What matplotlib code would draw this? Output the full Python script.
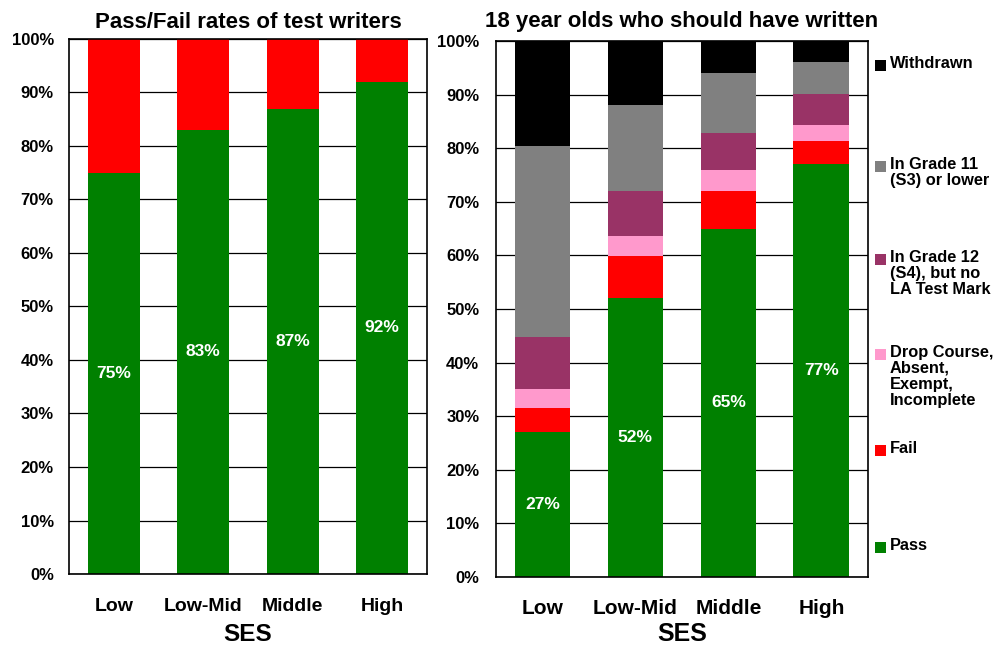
import matplotlib.pyplot as plt
from matplotlib.patches import Rectangle
import numpy as np

plt.rcParams['font.family'] = ['Liberation Sans', 'DejaVu Sans']
plt.rcParams['font.weight'] = 'bold'

# SES groups
groups = ['Low', 'Low-Mid', 'Middle', 'High']

# Left panel: pass/fail among students who wrote the test (%)
writers_pass = [75, 83, 87, 92]
writers_fail = [25, 17, 13, 8]

# Right panel: all 18 year olds who should have written (%)
cohort_series = ['Pass', 'Fail', 'Drop Course,\nAbsent,\nExempt,\nIncomplete',
                 'In Grade 12\n(S4), but no\nLA Test Mark',
                 'In Grade 11\n(S3) or lower', 'Withdrawn']
cohort_pass = [27, 52, 65, 77]
cohort_fail = [4.6, 7.8, 7.0, 4.3]
cohort_drop = [3.4, 3.9, 3.9, 3.0]
cohort_gr12 = [9.8, 8.4, 6.9, 5.8]
cohort_gr11 = [35.6, 15.9, 11.2, 6.0]
cohort_withdrawn = [19.6, 12.0, 6.0, 3.9]

colors = ['#008000', '#FF0000', '#FF99CC', '#993366', '#808080', '#000000']

fig = plt.figure(figsize=(10.08, 6.47), dpi=100)
ax1 = fig.add_axes([0.0685, 0.1128, 0.355, 0.827])
ax2 = fig.add_axes([0.492, 0.1082, 0.369, 0.8284])

x = np.arange(len(groups))


def style_axis(ax, xpad, ypad, xsize):
    ax.set_xlim(-0.5, 3.5)
    ax.set_ylim(0, 100)
    ax.set_yticks(np.arange(0, 101, 10))
    ax.set_yticklabels([f'{v}%' for v in range(0, 101, 10)], fontsize=12, fontweight='bold')
    ax.set_xticks(x)
    ax.set_xticklabels(groups, fontsize=xsize, fontweight='bold')
    ax.tick_params(axis='y', length=0, pad=ypad)
    ax.tick_params(axis='x', length=0, pad=xpad)
    ax.yaxis.grid(True, color='black', linewidth=0.9)
    ax.set_axisbelow(True)
    for s in ax.spines.values():
        s.set_color('black')
        s.set_linewidth(1.2)


# pass/fail of writers
ax1.bar(x, writers_pass, width=0.58, color=colors[0], zorder=2)
ax1.bar(x, writers_fail, width=0.58, bottom=writers_pass, color=colors[1], zorder=2)
for i, v in enumerate(writers_pass):
    ax1.text(x[i], v / 2, f'{v}%', color='white', ha='center', va='center',
             fontsize=12.5, fontweight='bold', zorder=3)
style_axis(ax1, 17, 11, 14)
ax1.set_title('Pass/Fail rates of test writers', fontsize=16, fontweight='bold', pad=8)
ax1.set_xlabel('SES', fontsize=17.5, fontweight='bold', labelpad=6)

# cohort breakdown
stack = [cohort_pass, cohort_fail, cohort_drop, cohort_gr12, cohort_gr11, cohort_withdrawn]
bottom = np.zeros(len(groups))
for vals, c in zip(stack, colors):
    ax2.bar(x, vals, width=0.6, bottom=bottom, color=c, zorder=2)
    bottom += np.array(vals)
for i, v in enumerate(cohort_pass):
    ax2.text(x[i], v / 2, f'{v}%', color='white', ha='center', va='center',
             fontsize=12.5, fontweight='bold', zorder=3)
style_axis(ax2, 16, 12, 15)
ax2.set_title('18 year olds who should have written', fontsize=16, fontweight='bold', pad=10)
ax2.set_xlabel('SES', fontsize=18, fontweight='bold', labelpad=3)

# hand-built legend, Withdrawn at the top down to Pass
W, H = 1008, 647
legend_y = [65, 166, 259, 354, 450, 547]
for name, c, yy in zip(cohort_series[::-1], colors[::-1], legend_y):
    fig.patches.append(Rectangle((875 / W, 1 - (yy + 5.5) / H), 11 / W, 11 / H,
                                 transform=fig.transFigure, facecolor=c, edgecolor='none'))
    fig.text(890 / W, 1 - (yy - 9) / H, name, fontsize=11.8, fontweight='bold',
             va='top', ha='left', linespacing=1.08)

fig.savefig('out.png', dpi=100)
